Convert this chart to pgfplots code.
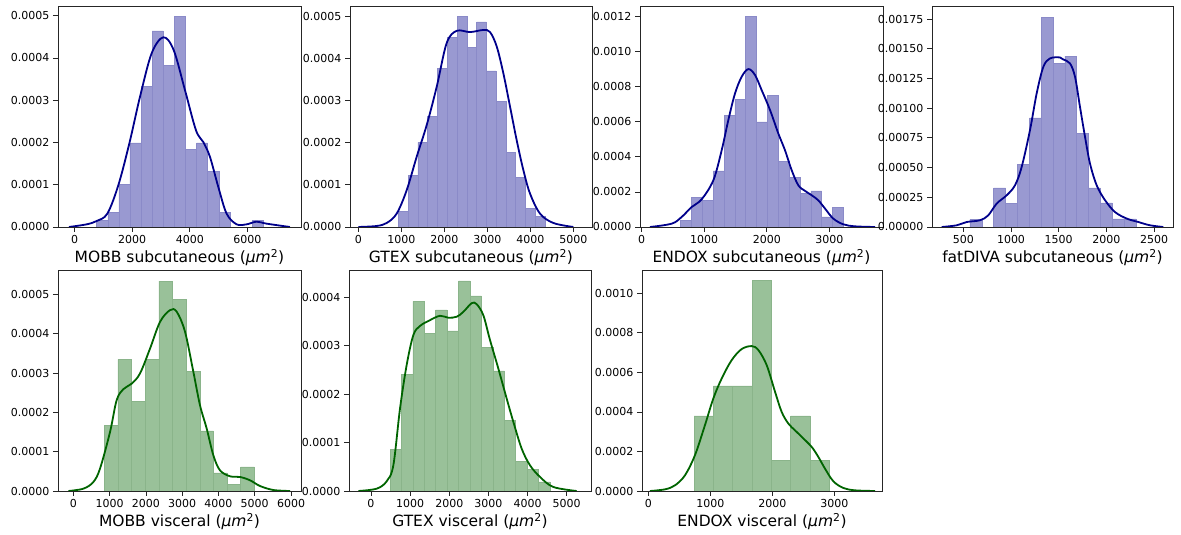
\documentclass[border=0pt]{standalone}
\usepackage{fontspec}
\setmainfont{DejaVu Sans}
\usepackage{pgfplots}
\pgfplotsset{compat=1.18}
\definecolor{bbar}{RGB}{153,153,209}
\definecolor{bedge}{RGB}{138,138,200}
\definecolor{bline}{RGB}{0,0,139}
\definecolor{gbar}{RGB}{153,193,153}
\definecolor{gedge}{RGB}{138,180,138}
\definecolor{gline}{RGB}{0,100,0}
\newcommand{\um}{(\textit{μm}\textsuperscript{2})}
\pgfplotsset{
  panel/.style={
    scale only axis, height=221pt, anchor=south west,
    ymin=0,
    axis line style={line width=0.9pt, black!85},
    tick align=outside, tick pos=left,
    major tick length=5pt,
    every tick/.style={black!85, line width=0.8pt},
    scaled y ticks=false, scaled x ticks=false,
    /pgf/number format/assume math mode=true,
    xticklabel style={font=\fontsize{11}{13}\selectfont, /pgf/number format/1000 sep={}},
    yticklabel style={font=\fontsize{11}{13}\selectfont, /pgf/number format/.cd, fixed, fixed zerofill, precision=4},
    xlabel style={font=\fontsize{15.5}{18}\selectfont, at={(axis description cs:0.5,0)}, anchor=base, yshift=-36pt},
  },
  bb/.style={ybar, bar shift=0pt, bar width=#1, fill=bbar, draw=bedge, line width=0.5pt},
  gb/.style={ybar, bar shift=0pt, bar width=#1, fill=gbar, draw=gedge, line width=0.5pt},
  bk/.style={smooth, tension=0.55, bline, line width=1.8pt, no markers},
  gk/.style={smooth, tension=0.55, gline, line width=1.8pt, no markers},
}
\begin{document}
\begin{tikzpicture}
\path[use as bounding box] (0,0) rectangle (1181pt,535pt);
% ---------- MOBB subcutaneous
\begin{axis}[panel, at={(58pt,308pt)}, width=243pt,
  xmin=-579, xmax=7865, ymax=0.000523,
  xtick={0,2000,4000,6000}, ytick={0,0.0001,0.0002,0.0003,0.0004,0.0005},
  xlabel={MOBB subcutaneous \um}]
\addplot[bb=386] coordinates {(957,0.0000158) (1343,0.000034) (1729,0.0001003) (2115,0.000199) (2501,0.000332) (2887,0.000464) (3273,0.000382) (3659,0.000498) (4045,0.000183) (4431,0.000199) (4817,0.000132) (5203,0.000034) (6361,0.0000158)};
\addplot[bk] coordinates {(-200,0) (417,0.0000063) (764,0.0000142) (1135,0.0000316) (1517,0.0000988) (1899,0.0001975) (2270,0.000308) (2675,0.000411) (3080,0.000449) (3439,0.000419) (3833,0.000324) (4215,0.000229) (4470,0.000201) (4701,0.000166) (4991,0.0000948) (5280,0.0000316) (5628,0.0000063) (5975,0.0000063) (6323,0.0000126) (6670,0.0000079) (7480,0)};
\end{axis}
% ---------- GTEX subcutaneous
\begin{axis}[panel, at={(350pt,308pt)}, width=242pt,
  xmin=-194, xmax=5433, ymax=0.000525,
  xtick={0,1000,2000,3000,4000,5000}, ytick={0,0.0001,0.0002,0.0003,0.0004,0.0005},
  xlabel={GTEX subcutaneous \um}]
\addplot[bb=227.4] coordinates {(1043.7,0.0000373) (1271.1,0.000123) (1498.5,0.000201) (1725.9,0.000262) (1953.3,0.000377) (2180.7,0.000451) (2408.1,0.0005) (2635.5,0.000427) (2862.9,0.000487) (3090.3,0.000371) (3317.7,0.000298) (3545.1,0.000177) (3772.5,0.000117) (3999.9,0.0000437) (4227.3,0.0000254)};
\addplot[bk] coordinates {(0,0) (426,0.0000024) (659,0.0000095) (891,0.0000317) (1124,0.0000873) (1357,0.000167) (1589,0.000242) (1822,0.000333) (2054,0.000437) (2287,0.000466) (2597,0.000463) (2907,0.000468) (3062,0.000463) (3217,0.000429) (3372,0.000365) (3527,0.000286) (3682,0.000206) (3837,0.000135) (3992,0.0000794) (4225,0.0000317) (4535,0.0000095) (5000,0)};
\end{axis}
% ---------- ENDOX subcutaneous
\begin{axis}[panel, at={(640pt,308pt)}, width=243pt,
  xmin=-27, xmax=3858, ymax=0.001261,
  xtick={0,1000,2000,3000}, ytick={0,0.0002,0.0004,0.0006,0.0008,0.0010,0.0012},
  xlabel={ENDOX subcutaneous \um}]
\addplot[bb=173.4] coordinates {(709.7,0.0000381) (883.1,0.000168) (1056.5,0.000152) (1229.9,0.00032) (1403.3,0.000638) (1576.7,0.00073) (1750.1,0.0012) (1923.5,0.0006) (2096.9,0.000749) (2270.3,0.000375) (2443.7,0.000282) (2617.1,0.00019) (2790.5,0.000206) (2963.9,0.0000571) (3137.3,0.000112)};
\addplot[bk] coordinates {(133,0) (480,0.000019) (639,0.0000571) (799,0.000114) (959,0.000158) (1146,0.000267) (1279,0.000438) (1385,0.00061) (1492,0.000762) (1598,0.000857) (1705,0.000901) (1812,0.000867) (1918,0.000781) (2052,0.000667) (2185,0.000533) (2291,0.000438) (2398,0.000324) (2504,0.000238) (2611,0.000206) (2718,0.000181) (2824,0.000152) (2931,0.000105) (3064,0.0000476) (3224,0.0000152) (3410,0.0000038) (3730,0)};
\end{axis}
% ---------- fatDIVA subcutaneous
\begin{axis}[panel, at={(932pt,308pt)}, width=241pt,
  xmin=172, xmax=2698, ymax=0.00186,
  xtick={500,1000,1500,2000,2500}, ytick={0,0.00025,0.0005,0.00075,0.001,0.00125,0.0015,0.00175},
  yticklabel style={/pgf/number format/precision=5},
  xlabel={fatDIVA subcutaneous \um}]
\addplot[bb=124.3] coordinates {(632.15,0.000065) (880.75,0.000329) (1005.05,0.000197) (1129.35,0.000526) (1253.65,0.000918) (1377.95,0.001764) (1502.25,0.001377) (1626.55,0.001438) (1750.85,0.000787) (1875.15,0.000329) (1999.45,0.000202) (2123.75,0.0000674) (2248.05,0.0000674)};
\addplot[bk] coordinates {(274,0) (431,0.0000143) (536,0.0000421) (675,0.0000565) (762,0.0000986) (850,0.000197) (955,0.000267) (1042,0.000351) (1112,0.000506) (1199,0.000815) (1269,0.001124) (1339,0.001348) (1409,0.001419) (1514,0.001427) (1548,0.00141) (1618,0.001377) (1671,0.001264) (1723,0.001011) (1776,0.000758) (1828,0.000534) (1898,0.000351) (1986,0.000225) (2090,0.000126) (2213,0.0000708) (2334,0.0000421) (2457,0.0000143) (2596,0)};
\end{axis}
% ---------- MOBB visceral
\begin{axis}[panel, at={(58pt,44pt)}, width=243pt,
  xmin=-423, xmax=6275, ymax=0.000562,
  xtick={0,1000,2000,3000,4000,5000,6000}, ytick={0,0.0001,0.0002,0.0003,0.0004,0.0005},
  xlabel={MOBB visceral \um}]
\addplot[gb=375.9] coordinates {(1041.95,0.000167) (1417.85,0.000335) (1793.75,0.000228) (2169.65,0.000335) (2545.55,0.000534) (2921.45,0.000488) (3297.35,0.000305) (3673.25,0.000153) (4049.15,0.0000458) (4425.05,0.0000161) (4800.95,0.0000611)};
\addplot[gk] coordinates {(-138,0) (276,0.0000059) (551,0.0000229) (735,0.0000569) (1011,0.00015) (1194,0.000231) (1378,0.000259) (1608,0.000273) (1838,0.000299) (2113,0.000362) (2389,0.00043) (2665,0.00046) (2848,0.000456) (3078,0.000405) (3308,0.000303) (3491,0.000218) (3675,0.000159) (3859,0.0000908) (4042,0.0000526) (4318,0.0000374) (4594,0.0000357) (4870,0.0000272) (5145,0.0000127) (5513,0.0000025) (5972,0)};
\end{axis}
% ---------- GTEX visceral
\begin{axis}[panel, at={(349pt,44pt)}, width=242pt,
  xmin=-562, xmax=5622, ymax=0.0004566,
  xtick={0,1000,2000,3000,4000,5000}, ytick={0,0.0001,0.0002,0.0003,0.0004},
  xlabel={GTEX visceral \um}]
\addplot[gb=292] coordinates {(632,0.0000862) (924,0.000241) (1216,0.000392) (1508,0.000326) (1800,0.000374) (2092,0.000331) (2384,0.000434) (2676,0.000403) (2968,0.000296) (3260,0.000248) (3552,0.000146) (3844,0.0000614) (4136,0.0000448) (4428,0.0000186)};
\addplot[gk] coordinates {(-324,0) (145,0.0000048) (400,0.00002) (571,0.0000531) (741,0.00017) (911,0.00026) (1082,0.000322) (1252,0.000341) (1508,0.000353) (1763,0.000362) (1976,0.000358) (2189,0.00036) (2359,0.00037) (2572,0.000388) (2700,0.000386) (2871,0.000363) (3041,0.000312) (3254,0.000253) (3467,0.000191) (3637,0.000143) (3850,0.0000876) (4063,0.0000531) (4319,0.000029) (4659,0.0000083) (5256,0)};
\end{axis}
% ---------- ENDOX visceral
\begin{axis}[panel, at={(642pt,44pt)}, width=240pt,
  xmin=-102, xmax=3768, ymax=0.001118,
  xtick={0,1000,2000,3000}, ytick={0,0.0002,0.0004,0.0006,0.0008,0.0010},
  xlabel={ENDOX visceral \um}]
\addplot[gb=311.7] coordinates {(892.85,0.00038) (1204.55,0.000532) (1516.25,0.000532) (1827.95,0.001064) (2139.65,0.000155) (2451.35,0.00038) (2763.05,0.000155)};
\addplot[gk] coordinates {(27,0) (269,0.0000084) (430,0.0000287) (591,0.0000794) (753,0.000182) (914,0.000334) (1048,0.000468) (1183,0.000569) (1344,0.000662) (1505,0.000718) (1667,0.000733) (1774,0.000713) (1908,0.000637) (2043,0.000502) (2150,0.0004) (2258,0.000341) (2365,0.000307) (2473,0.000274) (2634,0.000223) (2742,0.000172) (2849,0.000113) (2984,0.000049) (3145,0.0000152) (3333,0.0000034) (3656,0)};
\end{axis}
\end{tikzpicture}
\end{document}
